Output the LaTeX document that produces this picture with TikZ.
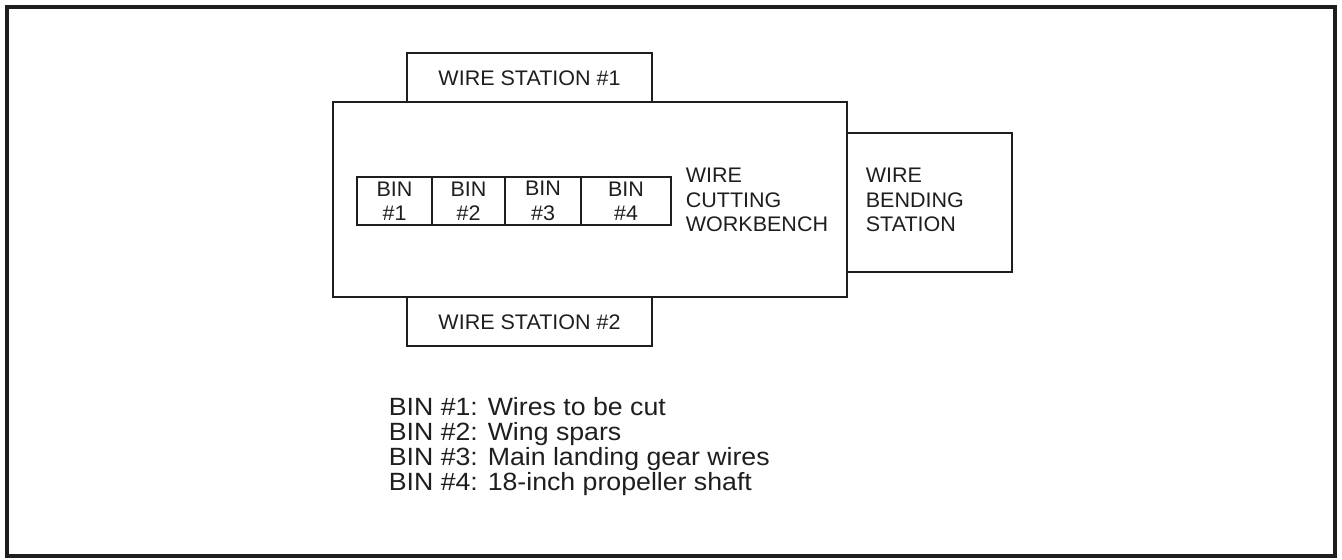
\documentclass[tikz,border=0pt]{standalone}
\usepackage{fontspec}
\setmainfont{Liberation Sans}[FakeStretch=1.02]
\newfontfamily\keyfont{Liberation Sans}[FakeStretch=1.07]
\usetikzlibrary{positioning}
\definecolor{ink}{HTML}{1E1E1E}
\tikzset{px/.style={x=0.02cm,y=-0.02cm,line width=1pt,draw=ink,text=ink,font=\fontsize{12}{13.9}\selectfont},
  lbl/.style={align=center,inner sep=0pt},
  side/.style={align=left,inner sep=0pt,anchor=west}}

\begin{document}
\begin{tikzpicture}[px]
  \useasboundingbox (0,0) rectangle (1342,560);
  \draw[line width=2.3pt] (7,7) rectangle (1335,556);
  % stations round the bench
  \draw (407,53) rectangle (652,102);\node[lbl] (ws1) at (529.5,78.5){WIRE STATION \#1};
  \draw (407,297) rectangle (652,346);\node[lbl] (ws2) at (529.5,322.5){WIRE STATION \#2};
  \draw (333,102) rectangle (847,297);\node[side] (wcw) at (685,200){WIRE\\CUTTING\\WORKBENCH};
  \draw (847,133) rectangle (1012,272);\node[side] (wbs) at (865,200){WIRE\\BENDING\\STATION};
  % bins
  \foreach \i/\xa/\xb in {1/357/432,2/432/505,3/505/581,4/581/671}{
    \draw (\xa,177) rectangle (\xb,225);
    \node[lbl] (bin\i) at ({(\xa+\xb)/2},201){BIN\\\#\i};
  }
  \node[side,font=\keyfont\fontsize{14.2}{14.35}\selectfont] (key) at (388,446.5){BIN \#1: Wires to be cut\\BIN \#2: Wing spars\\BIN \#3: Main landing gear wires\\BIN \#4: 18-inch propeller shaft};
\end{tikzpicture}
\end{document}
